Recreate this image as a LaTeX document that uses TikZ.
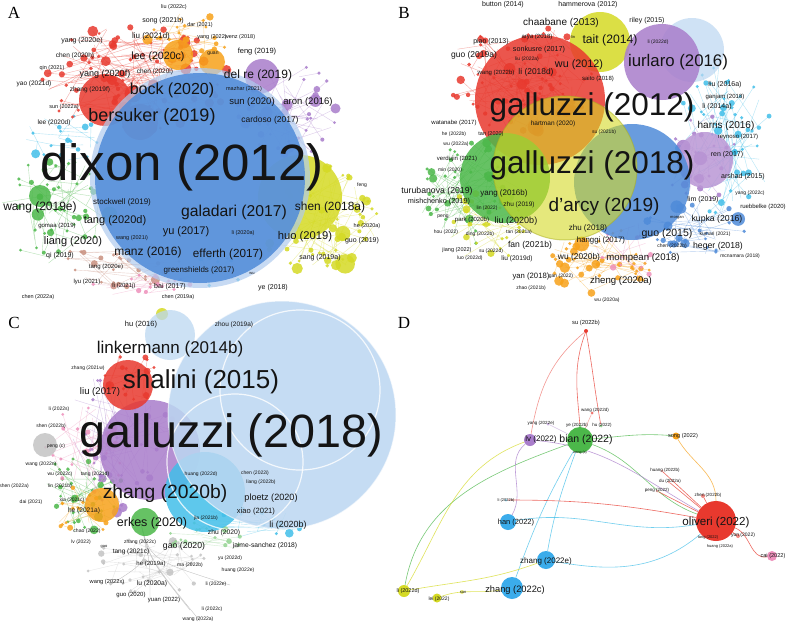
\documentclass[tikz,border=0pt]{standalone}
\usepackage{fontspec}
\setmainfont{Liberation Sans}
\newfontfamily\capfont{Liberation Serif}
\usepackage{tikz}
\usetikzlibrary{positioning,backgrounds}
\definecolor{vred}{HTML}{E8392E}
\definecolor{vorange}{HTML}{F7A21B}
\definecolor{vgreen}{HTML}{4CB84A}
\definecolor{vcyan}{HTML}{42BFE9}
\definecolor{vblue}{HTML}{4F8BD9}
\definecolor{vyellow}{HTML}{D5DA25}
\definecolor{vpurple}{HTML}{A97DCB}
\definecolor{vpink}{HTML}{EE91BC}
\definecolor{vbrown}{HTML}{C99180}
\definecolor{vgray}{HTML}{C4C4C4}
\definecolor{vpale}{HTML}{BCD7F1}
\definecolor{vink}{HTML}{141414}
\tikzset{
  lbl/.style={inner sep=0pt,text=vink},
  tag/.style={inner sep=0pt,font=\capfont\fontsize{17}{17}\selectfont},
  bubble/.style={fill opacity=.85},
  link/.style={line width=.6pt,draw opacity=.75},
  dnode/.style={circle,inner sep=0pt},
}
% label: name, x, y, size, text
\newcommand{\lbl}[5]{\node[lbl,font=\fontsize{#4}{#4}\selectfont] (#1) at (#2,#3) {#5};}
% cloud of items: seed, count, cx, cy, rx, ry, colour, max radius
\newcommand{\dotcloud}[8]{%
  \pgfmathsetseed{#1}%
  \foreach \k in {1,...,#2}{%
    \pgfmathsetmacro\ang{360*rnd}%
    \pgfmathsetmacro\rr{sqrt(rnd)}%
    \pgfmathsetmacro\px{#3+#5*\rr*cos(\ang)}%
    \pgfmathsetmacro\py{#4+#6*\rr*sin(\ang)}%
    \pgfmathsetmacro\qa{360*rnd}%
    \pgfmathsetmacro\qr{rnd}%
    \pgfmathsetmacro\qx{#3+#5*\qr*cos(\qa)}%
    \pgfmathsetmacro\qy{#4+#6*\qr*sin(\qa)}%
    \pgfmathsetmacro\rad{1.5+(#8-1.5)*rnd*rnd*rnd}%
    \draw[#7,line width=.4pt,draw opacity=.4] (\px,\py) -- (\qx,\qy);%
    \fill[#7,fill opacity=.85] (\px,\py) circle (\rad);%
  }%
}

\begin{document}
\begin{tikzpicture}[x=1pt,y=-1pt]
  \begin{pgfonlayer}{background}
    \fill[white] (0,0) rectangle (788,624);
  \end{pgfonlayer}
  \useasboundingbox (0,0) rectangle (788,624);

  % ---- A ----
  \dotcloud{11}{40}{60}{210}{60}{55}{vgreen}{9}
  \dotcloud{12}{15}{60}{140}{40}{28}{vcyan}{5}
  \dotcloud{13}{30}{125}{262}{62}{25}{vbrown}{8}
  \dotcloud{14}{14}{140}{285}{50}{12}{vpink}{5}
  \dotcloud{15}{45}{290}{110}{55}{45}{vpurple}{10}
  \dotcloud{16}{55}{318}{218}{62}{55}{vyellow}{12}
  \dotcloud{17}{90}{135}{78}{95}{55}{vred}{12}
  \dotcloud{18}{22}{188}{42}{42}{30}{vorange}{10}
  \dotcloud{19}{10}{205}{272}{40}{18}{vcyan}{5}
  \fill[vyellow,bubble] (300,197) circle (42);
  \fill[vred,bubble] (105,100) circle (26);
  \fill[vred,bubble] (140,122) circle (18);
  \fill[vorange,bubble] (178,55) circle (15);
  \fill[vorange,bubble] (212,62) circle (13);
  \fill[vpurple,bubble] (262,76) circle (17);
  \fill[vgreen,bubble] (40,196) circle (11);
  \fill[vblue!45,fill opacity=.7] (200,178) circle (110);
  \fill[vblue,bubble] (200,178) circle (105);
  \node[tag] (tagA) at (14,13) {A};
  \lbl{a1}{182}{167}{51}{dixon (2012)}
  \lbl{a2}{152}{117}{18}{bersuker (2019)}
  \lbl{a3}{172}{90}{16}{bock (2020)}
  \lbl{a4}{158}{57}{10.6}{lee (2020c)}
  \lbl{a5}{151}{36}{8}{liu (2021d)}
  \lbl{a6}{163}{21}{7}{song (2021b)}
  \lbl{a7}{174}{7}{5.5}{liu (2022c)}
  \lbl{a8}{200}{25}{5.5}{dar (2021)}
  \lbl{a9}{82}{41}{7}{yang (2020e)}
  \lbl{a10}{75}{56}{6.5}{chen (2020h)}
  \lbl{a11}{52}{68}{5.5}{qin (2021)}
  \lbl{a12}{34}{84}{6.5}{yao (2021d)}
  \lbl{a13}{105}{74}{9}{yang (2020f)}
  \lbl{a14}{155}{72}{6.5}{chen (2020i)}
  \lbl{a15}{90}{90}{6.5}{zhang (2019f)}
  \lbl{a16}{64}{107}{5.5}{sun (2022a)}
  \lbl{a17}{54}{123}{6.5}{lee (2020d)}
  \lbl{a18}{212}{37}{5.5}{yang (2022)}
  \lbl{a19}{240}{37}{5.5}{wenz (2018)}
  \lbl{a20}{213}{54}{5}{guan}
  \lbl{a21}{257}{52}{7.5}{feng (2019)}
  \lbl{a22}{258}{75}{12}{del re (2019)}
  \lbl{a23}{244}{89}{5.5}{mazhar (2021)}
  \lbl{a24}{252}{102}{9.5}{sun (2020)}
  \lbl{a25}{308}{102}{9.5}{aron (2016)}
  \lbl{a26}{270}{120}{8.5}{cardoso (2017)}
  \lbl{a27}{40}{207}{12}{wang (2019e)}
  \lbl{a28}{122}{202}{8}{stockwell (2019)}
  \lbl{a29}{57}{226}{6}{gomaa (2019)}
  \lbl{a30}{115}{221}{11}{tang (2020d)}
  \lbl{a31}{73}{242}{11}{liang (2020)}
  \lbl{a32}{60}{256}{7}{qi (2019)}
  \lbl{a33}{132}{238}{5.5}{wang (2021i)}
  \lbl{a34}{148}{252}{12}{manz (2016)}
  \lbl{a35}{106}{267}{6}{tang (2020e)}
  \lbl{a36}{87}{282}{6}{lyu (2021)}
  \lbl{a37}{124}{286}{6}{li (2021j)}
  \lbl{a38}{170}{287}{7}{bai (2017)}
  \lbl{a39}{38}{297}{5.5}{chen (2022a)}
  \lbl{a40}{178}{297}{5.5}{chen (2019a)}
  \lbl{a41}{199}{270}{8}{greenshields (2017)}
  \lbl{a42}{234}{212}{15.7}{galadari (2017)}
  \lbl{a43}{186}{232}{11}{yu (2017)}
  \lbl{a44}{228}{254}{11.7}{efferth (2017)}
  \lbl{a45}{330}{207}{11.9}{shen (2018a)}
  \lbl{a46}{305}{237}{11.2}{huo (2019)}
  \lbl{a47}{243}{233}{5.5}{li (2020a)}
  \lbl{a48}{367}{226}{5.5}{he (2020a)}
  \lbl{a49}{362}{241}{7}{guo (2019)}
  \lbl{a50}{320}{258}{7}{sang (2019a)}
  \lbl{a51}{273}{288}{7}{ye (2018)}
  \lbl{a52}{362}{185}{5}{feng}
  \lbl{a53}{252}{273}{4}{wu}

  % ---- B ----
  \dotcloud{21}{50}{470}{192}{52}{52}{vgreen}{10}
  \dotcloud{22}{28}{485}{225}{40}{38}{vyellow}{9}
  \dotcloud{23}{40}{602}{262}{52}{34}{vorange}{12}
  \dotcloud{24}{45}{725}{140}{48}{80}{vcyan}{8}
  \dotcloud{25}{25}{705}{160}{40}{45}{vpurple}{9}
  \dotcloud{26}{30}{695}{228}{50}{30}{vblue}{12}
  \dotcloud{27}{12}{632}{250}{40}{30}{vpink}{6}
  \dotcloud{28}{70}{520}{78}{72}{58}{vred}{12}
  \fill[vyellow,bubble] (600,42) circle (30);
  \fill[vred,bubble] (540,100) circle (65);
  \fill[vpale,fill opacity=.7] (692,50) circle (32);
  \fill[vpurple,bubble] (662,62) circle (38);
  \fill[vpurple!80,bubble] (705,160) circle (28);
  \fill[vgreen,bubble] (505,178) circle (45);
  \fill[vblue,bubble] (632,182) circle (58);
  \fill[vyellow,fill opacity=.6] (565,168) circle (72);
  \draw[vyellow!80!black,line width=1pt,draw opacity=.5] (565,168) circle (72);
  \node[tag] (tagB) at (404,13) {B};
  \lbl{b1}{592}{107}{31.5}{galluzzi (2012)}
  \lbl{b2}{592}{165}{31.5}{galluzzi (2018)}
  \lbl{b3}{604}{207}{19}{d'arcy (2019)}
  \lbl{b4}{678}{62}{16.8}{iurlaro (2016)}
  \lbl{b5}{561}{23}{10}{chaabane (2013)}
  \lbl{b6}{610}{40}{12.2}{tait (2014)}
  \lbl{b7}{579}{65}{10.8}{wu (2012)}
  \lbl{b8}{536}{72}{8.4}{li (2018d)}
  \lbl{b9}{539}{50}{7.2}{sonkusre (2017)}
  \lbl{b10}{474}{55}{8.5}{guo (2019a)}
  \lbl{b11}{503}{5}{7}{button (2014)}
  \lbl{b12}{588}{5}{7}{hammerova (2012)}
  \lbl{b13}{647}{21}{7}{riley (2015)}
  \lbl{b14}{658}{42}{5}{li (2022d)}
  \lbl{b15}{537}{37}{6}{arya (2018)}
  \lbl{b16}{573}{37}{4}{lin}
  \lbl{b17}{491}{42}{7}{piao (2013)}
  \lbl{b18}{527}{59}{5}{liu (2022a)}
  \lbl{b19}{496}{73}{6}{wang (2022b)}
  \lbl{b20}{598}{79}{6}{saito (2018)}
  \lbl{b21}{454}{123}{6}{watanabe (2017)}
  \lbl{b22}{553}{124}{6.5}{hartman (2020)}
  \lbl{b23}{491}{134}{5.5}{tan (2020)}
  \lbl{b24}{454}{134}{5}{he (2022b)}
  \lbl{b25}{456}{144}{5}{wu (2022a)}
  \lbl{b26}{604}{132}{5}{su (2021b)}
  \lbl{b27}{725}{85}{7}{liu (2016a)}
  \lbl{b28}{725}{97}{6}{ganjam (2018)}
  \lbl{b29}{717}{107}{7}{li (2014a)}
  \lbl{b30}{726}{126}{10}{harris (2016)}
  \lbl{b31}{738}{137}{6}{reynoso (2017)}
  \lbl{b32}{727}{155}{7}{ren (2017)}
  \lbl{b33}{743}{177}{7}{arshad (2015)}
  \lbl{b34}{750}{193}{5}{yang (2022c)}
  \lbl{b35}{763}{207}{6}{ruebbelke (2020)}
  \lbl{b36}{703}{200}{7}{lim (2019)}
  \lbl{b37}{717}{219}{8.7}{kupka (2016)}
  \lbl{b38}{677}{218}{4}{morgan}
  \lbl{b39}{667}{234}{10.5}{guo (2015)}
  \lbl{b40}{715}{234}{5}{kumari (2021)}
  \lbl{b41}{718}{246}{8.7}{heger (2018)}
  \lbl{b42}{672}{246}{5}{chen (2022b)}
  \lbl{b43}{740}{256}{5}{mcnamara (2018)}
  \lbl{b44}{643}{258}{9.6}{mompean (2018)}
  \lbl{b45}{621}{281}{9.6}{zheng (2020a)}
  \lbl{b46}{607}{300}{5}{wu (2020a)}
  \lbl{b47}{457}{159}{6}{verdujin (2021)}
  \lbl{b48}{450}{170}{5}{min (2020)}
  \lbl{b49}{437}{191}{8.7}{turubanova (2019)}
  \lbl{b50}{504}{193}{8}{yang (2016b)}
  \lbl{b51}{439}{202}{7.3}{mishchenko (2019)}
  \lbl{b52}{519}{205}{6.5}{zhu (2019)}
  \lbl{b53}{487}{208}{5}{lin (2022)}
  \lbl{b54}{443}{217}{5}{peng}
  \lbl{b55}{472}{220}{6}{park (2020b)}
  \lbl{b56}{516}{221}{9}{liu (2020b)}
  \lbl{b57}{446}{232}{5}{hou (2022)}
  \lbl{b58}{480}{234}{5}{ding (2022b)}
  \lbl{b59}{519}{232}{5}{tan (2021a)}
  \lbl{b60}{588}{228}{8}{zhu (2018)}
  \lbl{b61}{601}{240}{7.8}{hanggi (2017)}
  \lbl{b62}{530}{245}{8.6}{fan (2021b)}
  \lbl{b63}{457}{250}{5.5}{jiang (2022)}
  \lbl{b64}{491}{251}{5}{su (2022d)}
  \lbl{b65}{470}{258}{5}{luo (2022d)}
  \lbl{b66}{517}{259}{6.6}{liu (2019d)}
  \lbl{b67}{579}{257}{8.4}{wu (2020b)}
  \lbl{b68}{531}{277}{7.7}{yan (2018)}
  \lbl{b69}{561}{276}{5}{gan (2022)}
  \lbl{b70}{531}{288}{5}{zhao (2021b)}

  % ---- C ----
  \foreach \ex/\ey in {200/621,150/600,110/585,230/585,190/610}{
    \draw[vgray,line width=.4pt] (140,520) .. controls (150,560) .. (\ex,\ey);}
  \dotcloud{31}{40}{120}{440}{55}{75}{vpurple}{9}
  \dotcloud{32}{30}{80}{495}{45}{40}{vgreen}{7}
  \dotcloud{33}{25}{85}{450}{40}{50}{vpink}{6}
  \dotcloud{34}{15}{85}{510}{30}{30}{vorange}{6}
  \dotcloud{35}{35}{150}{565}{65}{28}{vgray}{6}
  \dotcloud{36}{20}{250}{522}{55}{18}{vcyan}{6}
  \dotcloud{37}{15}{205}{540}{40}{18}{vgreen!60}{6}
  \dotcloud{38}{15}{130}{380}{30}{30}{vred}{8}
  \fill[vgray,bubble] (45,445) circle (12);
  \fill[vpurple,bubble] (150,450) circle (50);
  \fill[vred,bubble] (128,385) circle (25);
  \fill[vorange,bubble] (102,505) circle (17);
  \fill[vcyan,bubble] (205,492) circle (40);
  \fill[vgreen,bubble] (145,522) circle (14);
  \fill[vyellow,bubble] (162,314) circle (6);
  \fill[vpale,fill opacity=.75] (170,335) circle (25);
  \fill[vpale,fill opacity=.85] (282,415) circle (114);
  \draw[white,line width=1.2pt,draw opacity=.8] (300,390) circle (80);
  \draw[white,line width=1.2pt,draw opacity=.8] (235,462) circle (68);
  \draw[white,line width=1pt,draw opacity=.6] (282,415) circle (114);
  \node[tag] (tagC) at (14,323) {C};
  \lbl{c1}{231}{435}{46.7}{galluzzi (2018)}
  \lbl{c2}{201}{382}{26}{shalini (2015)}
  \lbl{c3}{170}{349}{17}{linkermann (2014b)}
  \lbl{c4}{141}{325}{7.5}{hu (2016)}
  \lbl{c5}{234}{325}{6.5}{zhou (2019a)}
  \lbl{c6}{88}{368}{5}{zhang (2021w)}
  \lbl{c7}{100}{392}{9.6}{liu (2017)}
  \lbl{c8}{59}{409}{5}{li (2022s)}
  \lbl{c9}{51}{426}{5}{shen (2022b)}
  \lbl{c10}{56}{446}{5}{peng (c)}
  \lbl{c11}{41}{464}{5}{wang (2022n)}
  \lbl{c12}{60}{474}{5}{wu (2022c)}
  \lbl{c13}{95}{474}{5}{tang (2021d)}
  \lbl{c14}{14}{486}{5}{shen (2022a)}
  \lbl{c15}{60}{486}{5}{lin (2021b)}
  \lbl{c16}{31}{502}{5}{dai (2021)}
  \lbl{c17}{72}{500}{5}{xia (2021c)}
  \lbl{c18}{84}{511}{6.6}{he (2021a)}
  \lbl{c19}{165}{494}{19.3}{zhang (2020b)}
  \lbl{c20}{152}{523}{12.5}{erkes (2020)}
  \lbl{c21}{87}{531}{5.1}{chao (2022)}
  \lbl{c22}{81}{542}{5}{lv (2022)}
  \lbl{c23}{104}{547}{4}{gao}
  \lbl{c24}{140}{542}{5}{zhang (2022c)}
  \lbl{c25}{131}{552}{6.5}{tang (2021c)}
  \lbl{c26}{184}{546}{8.7}{gao (2020)}
  \lbl{c27}{151}{564}{6}{he (2019a)}
  \lbl{c28}{190}{565}{5}{ma (2022b)}
  \lbl{c29}{107}{582}{5.7}{wang (2022x)}
  \lbl{c30}{152}{584}{6.7}{lu (2020a)}
  \lbl{c31}{131}{595}{6}{guo (2020)}
  \lbl{c32}{164}{600}{6}{yuan (2022)}
  \lbl{c33}{198}{619}{5}{wang (2022a)}
  \lbl{c34}{216}{584}{5}{li (2022e)}
  \lbl{c35}{238}{570}{5}{huang (2022e)}
  \lbl{c36}{230}{558}{5}{yu (2022d)}
  \lbl{c37}{265}{546}{6.7}{jaime-sanchez (2018)}
  \lbl{c38}{224}{533}{6.7}{zhu (2020)}
  \lbl{c39}{288}{525}{8.9}{li (2020b)}
  \lbl{c40}{256}{512}{7.6}{xiao (2021)}
  \lbl{c41}{271}{498}{9.1}{ploetz (2020)}
  \lbl{c42}{255}{473}{5}{chen (2022i)}
  \lbl{c43}{261}{482}{5}{liang (2022b)}
  \lbl{c44}{201}{474}{5}{huang (2022d)}
  \lbl{c45}{206}{518}{5}{jia (2021b)}
  \lbl{c46}{212}{609}{5}{li (2022c)}

  % ---- D ----
  \node[tag] (tagD) at (404,323) {D};
  \node[dnode,fill=vred,minimum size=4pt] (su) at (586,331) {};
  \node[dnode,fill=vred!70,minimum size=3pt] (wangd) at (592,413) {};
  \node[dnode,fill=vpurple!60,minimum size=3pt] (yange) at (548,424) {};
  \node[dnode,fill=vgreen!60,minimum size=3pt] (yeb) at (580,426) {};
  \node[dnode,fill=vgreen!60,minimum size=3pt] (hu) at (601,426) {};
  \node[dnode,fill=vgreen,minimum size=26pt] (bian) at (580,440) {};
  \node[dnode,fill=vpurple,minimum size=12pt] (lv) at (530,440) {};
  \node[dnode,fill=vorange,minimum size=7pt] (song) at (676,436) {};
  \node[dnode,fill=vred!40,minimum size=3pt] (huangb) at (662,471) {};
  \node[dnode,fill=vred!40,minimum size=3pt] (dua) at (669,482) {};
  \node[dnode,fill=vred!40,minimum size=3pt] (peng) at (657,491) {};
  \node[dnode,fill=vred!60,minimum size=4pt] (zhenb) at (703,496) {};
  \node[dnode,fill=vred,minimum size=40pt] (oliveri) at (716,521) {};
  \node[dnode,fill=vred!60,minimum size=4pt] (yun) at (738,536) {};
  \node[dnode,fill=vpink,minimum size=10pt] (cai) at (772,556) {};
  \node[dnode,fill=vcyan!50,minimum size=3pt] (lib) at (506,500) {};
  \node[dnode,fill=vcyan!90!blue,minimum size=16pt] (han) at (508,522) {};
  \node[dnode,fill=vcyan!90!blue,minimum size=18pt] (zhange) at (546,560) {};
  \node[dnode,fill=vcyan!90!blue,minimum size=22pt] (zhangc) at (512,588) {};
  \node[dnode,fill=vyellow,minimum size=12pt] (lid) at (404,591) {};
  \node[dnode,fill=vyellow,minimum size=9pt] (lei) at (437,598) {};
  \node[dnode,fill=vyellow!60,minimum size=4pt] (sun) at (462,592) {};
  \begin{pgfonlayer}{background}
    \draw[link,vred] (su) to[out=250,in=95] (yeb);
    \draw[link,vred] (su) to[out=280,in=100] (hu);
    \draw[link,vred!70] (su) to[out=220,in=80] (lv);
    \draw[link,vred!50] (wangd) -- (bian);
    \draw[link,vpurple!60] (yange) -- (bian);
    \draw[link,vgreen] (bian) to[out=5,in=175] (song);
    \draw[link,vgreen] (bian) to[out=-20,in=160] (oliveri);
    \draw[link,vgreen] (bian) to[out=200,in=80] (lid);
    \draw[link,vpurple] (lv) to[out=-5,in=150] (oliveri);
    \draw[link,vpurple] (lv) to[out=220,in=60] (han);
    \draw[link,vcyan] (han) to[out=10,in=190] (oliveri);
    \draw[link,vcyan] (zhange) to[out=80,in=250] (bian);
    \draw[link,vcyan] (zhangc) to[out=70,in=240] (bian);
    \draw[link,vcyan] (zhange) to[out=-10,in=220] (oliveri);
    \draw[link,vyellow] (lid) to[out=10,in=200] (zhange);
    \draw[link,vyellow] (lei) to[out=20,in=190] (zhangc);
    \draw[link,vyellow] (lid) to[out=60,in=200] (lv);
    \draw[link,vred] (lib) to[out=0,in=170] (oliveri);
    \draw[link,vred] (huangb) -- (oliveri);
    \draw[link,vred] (dua) -- (oliveri);
    \draw[link,vred] (peng) -- (oliveri);
    \draw[link,vred] (zhenb) -- (oliveri);
    \draw[link,vred] (yun) -- (oliveri);
    \draw[link,vred] (oliveri) to[out=-20,in=190] (cai);
    \draw[link,vorange] (song) to[out=-60,in=90] (oliveri);
  \end{pgfonlayer}
  \lbl{d1}{586}{323}{5.8}{su (2022b)}
  \lbl{d2}{595}{410}{4.5}{wang (2022d)}
  \lbl{d3}{541}{423}{4.5}{yang (2022e)}
  \lbl{d4}{577}{425}{4.5}{ye (2022b)}
  \lbl{d5}{602}{425}{4.5}{hu (2022)}
  \lbl{d6}{586}{440}{10.5}{bian (2022)}
  \lbl{d7}{580}{453}{3.5}{wang (a)}
  \lbl{d8}{541}{439}{8}{lv (2022)}
  \lbl{d9}{683}{436}{5.6}{song (2022)}
  \lbl{d10}{665}{470}{4.5}{huang (2022b)}
  \lbl{d11}{670}{481}{4.5}{du (2022a)}
  \lbl{d12}{657}{490}{4.5}{peng (2022)}
  \lbl{d13}{708}{495}{4.5}{zhen (2022b)}
  \lbl{d14}{716}{522}{11.6}{oliveri (2022)}
  \lbl{d15}{708}{537}{4}{tang (2022)}
  \lbl{d16}{743}{535}{5}{yun (2022)}
  \lbl{d17}{720}{546}{4}{huang (2022a)}
  \lbl{d18}{773}{556}{5.6}{cai (2022)}
  \lbl{d19}{506}{500}{4}{li (2022b)}
  \lbl{d20}{516}{523}{7.5}{han (2022)}
  \lbl{d21}{546}{561}{8}{zhang (2022e)}
  \lbl{d22}{515}{590}{9.3}{zhang (2022c)}
  \lbl{d23}{408}{591}{5.5}{li (2022d)}
  \lbl{d24}{439}{599}{5}{lei (2022)}
  \lbl{d25}{463}{592}{4}{sun}
\end{tikzpicture}
\end{document}
